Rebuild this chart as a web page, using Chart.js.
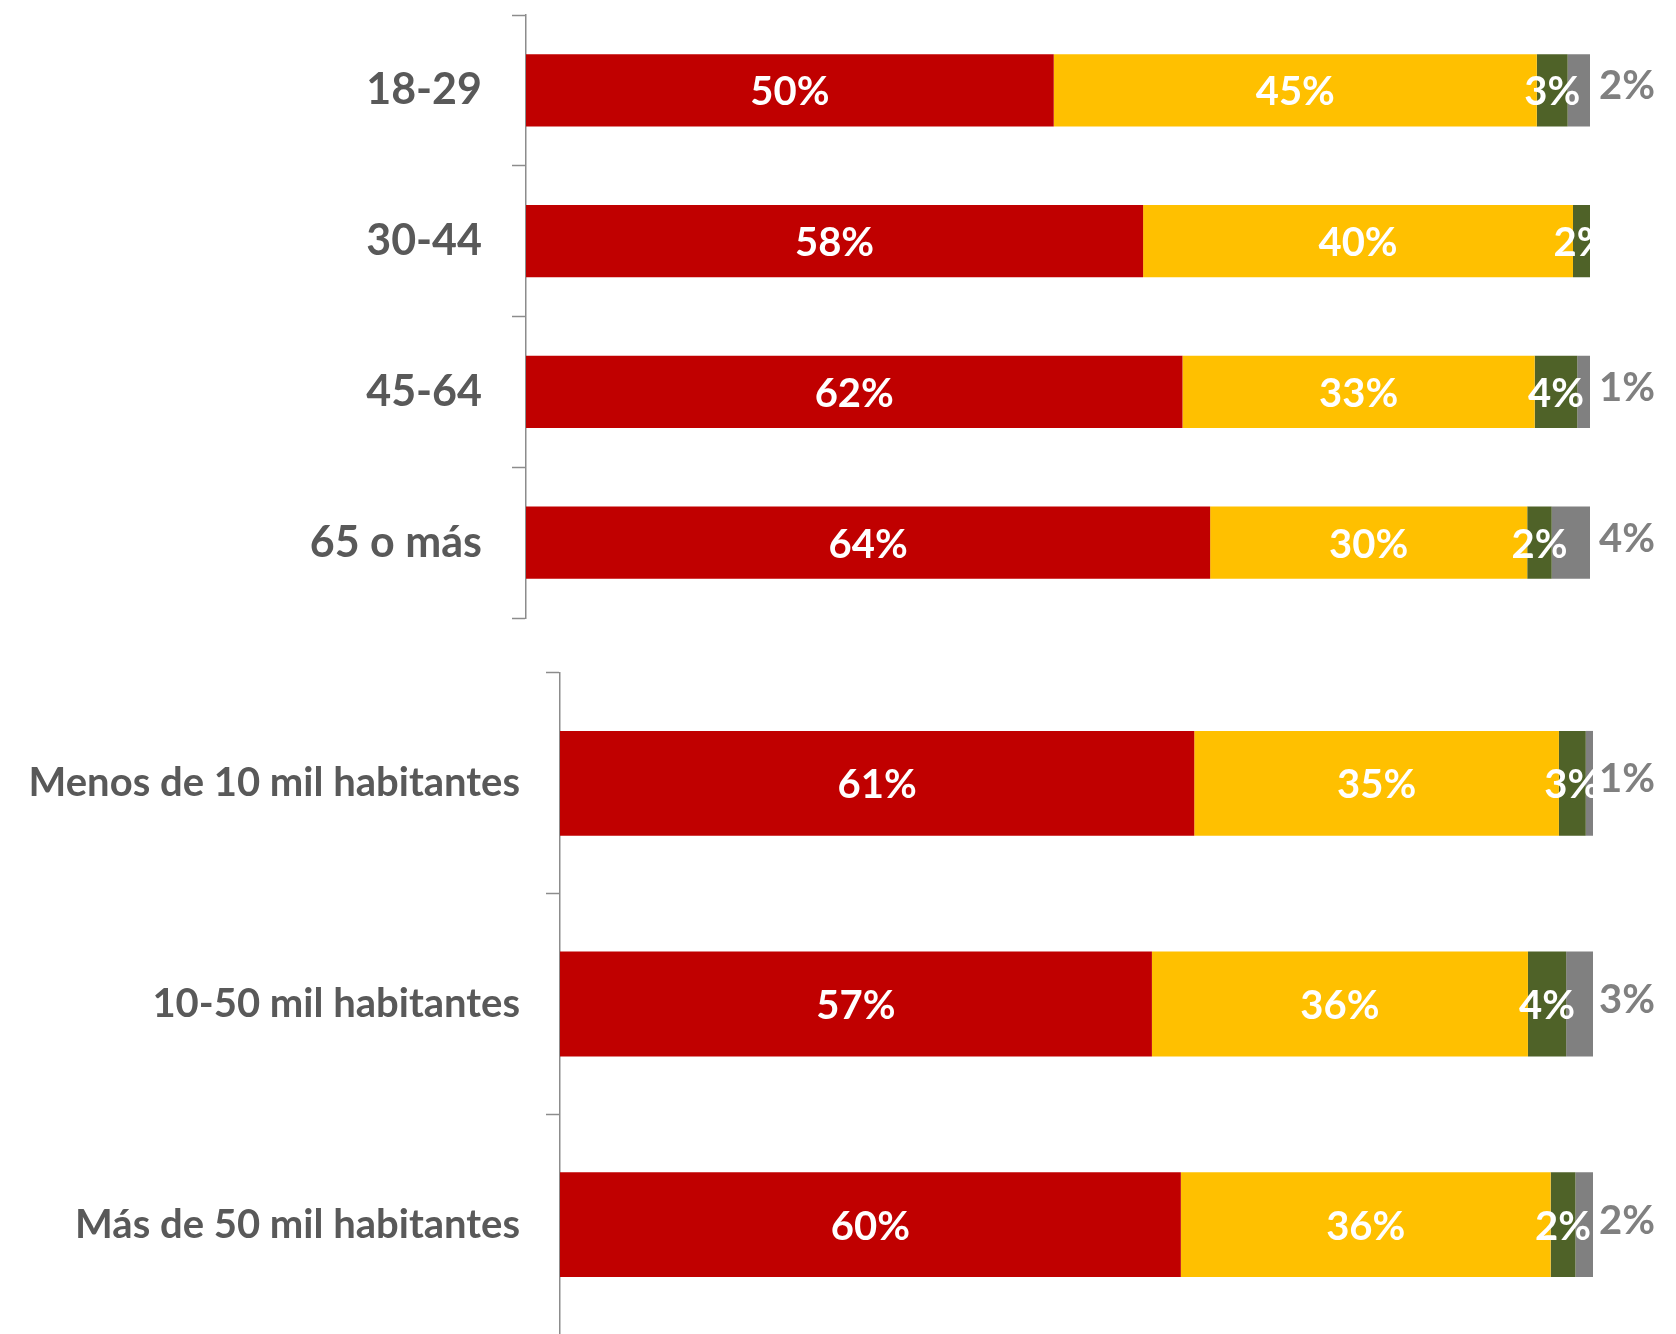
<!DOCTYPE html>
<html>
<head>
<meta charset="utf-8">
<script src="https://cdn.jsdelivr.net/npm/chart.js@4.4.1/dist/chart.umd.min.js"></script>
<style>
  html, body { margin: 0; padding: 0; background: #fff; overflow: hidden; }
  #chartEdad { position: absolute; left: 0; top: 0; }
  #chartHabitat { position: absolute; left: 0; top: 640px; }
</style>
</head>
<body>
<canvas id="chartEdad" width="1676" height="640"></canvas>
<canvas id="chartHabitat" width="1676" height="700"></canvas>
<script>
// datos por edad (la etiqueta se redondea)
const edadLabels = ['18-29', '30-44', '45-64', '65 o más'];
const edadRojo = [49.6, 58.0, 61.7, 64.3];
const edadAmarillo = [45.4, 40.4, 33.1, 29.8];
const edadVerde = [2.9, 1.6, 4.0, 2.3];
const edadGris = [2.1, 0, 1.2, 3.6];

// datos por tamaño de municipio
const habitatLabels = ['Menos de 10 mil habitantes', '10-50 mil habitantes', 'Más de 50 mil habitantes'];
const habitatRojo = [61.4, 57.3, 60.1];
const habitatAmarillo = [35.3, 36.4, 35.8];
const habitatVerde = [2.6, 3.7, 2.4];
const habitatGris = [0.7, 2.6, 1.7];

const colores = ['#C00000', '#FFC000', '#4F6228', '#808080'];
const nombres = ['Serie 1', 'Serie 2', 'Serie 3', 'Serie 4'];

// etiquetas de datos dibujadas sobre los elementos de la barra
const etiquetas = {
    id: 'etiquetas',
    afterDatasetsDraw(chart, args, opts) {
        const ctx = chart.ctx;
        ctx.save();
        ctx.font = 'bold ' + opts.size + 'px Lato';
        ctx.textBaseline = 'middle';
        chart.data.datasets.forEach(function (ds, i) {
            const meta = chart.getDatasetMeta(i);
            meta.data.forEach(function (el, j) {
                const v = ds.data[j];
                if (!v) return;
                const txt = Math.round(v) + '%';
                ctx.textAlign = 'center';
                if (i < 3) {
                    ctx.fillStyle = '#ffffff';
                    ctx.fillText(txt, (el.x + el.base) / 2, el.y + 2);
                } else {
                    ctx.fillStyle = '#808080';
                    ctx.fillText(txt, el.x + opts.fuera, el.y - 4);
                }
            });
        });
        ctx.restore();
    }
};

function crearGrafico(id, labels, series, cfg) {
    return new Chart(document.getElementById(id), {
        type: 'bar',
        data: {
            labels: labels,
            datasets: series.map(function (d, i) {
                return {
                    label: nombres[i],
                    data: d,
                    backgroundColor: colores[i],
                    borderWidth: 0,
                    barPercentage: cfg.barPct,
                    categoryPercentage: 1
                };
            })
        },
        options: {
            indexAxis: 'y',
            responsive: false,
            animation: false,
            layout: { padding: cfg.padding },
            plugins: {
                legend: { display: false },
                tooltip: { enabled: false },
                etiquetas: { size: 40, fuera: cfg.fuera }
            },
            scales: {
                x: { stacked: true, min: 0, max: 100, display: false },
                y: {
                    stacked: true,
                    afterFit: function (scale) {
                        scale.width = cfg.axisW;
                        scale.paddingTop = 0;
                        scale.paddingBottom = 0;
                    },
                    grid: {
                        drawOnChartArea: false,
                        tickLength: 14,
                        tickWidth: 1.5,
                        tickColor: '#8c8c8c'
                    },
                    border: { display: true, color: '#8c8c8c', width: 1.5 },
                    ticks: {
                        padding: cfg.tickPad,
                        color: '#595959',
                        font: { family: 'Lato', weight: 'bold', size: cfg.labelSize }
                    }
                }
            }
        },
        plugins: [etiquetas]
    });
}

crearGrafico('chartEdad', edadLabels, [edadRojo, edadAmarillo, edadVerde, edadGris], {
    barPct: 0.48,
    padding: { top: 15, bottom: 22, left: 0, right: 86 },
    axisW: 526,
    tickPad: 30,
    labelSize: 43,
    fuera: 37
});

crearGrafico('chartHabitat', habitatLabels, [habitatRojo, habitatAmarillo, habitatVerde, habitatGris], {
    barPct: 0.475,
    padding: { top: 33, bottom: 5, left: 0, right: 83 },
    axisW: 560,
    tickPad: 26,
    labelSize: 40,
    fuera: 34
});
</script>
</body>
</html>
